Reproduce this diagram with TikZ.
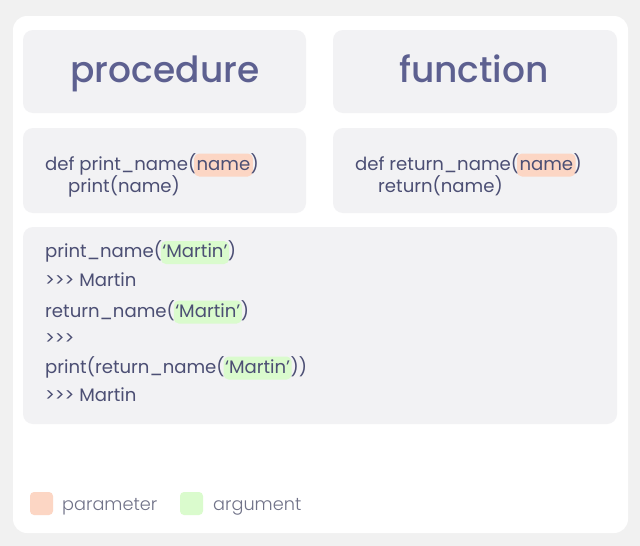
\documentclass[tikz,border=0pt]{standalone}
\usepackage{fontspec}
\setmainfont{Poppins}
\newfontfamily\headfont{Poppins Medium}
\newfontfamily\keyfont{Poppins Light}
\usetikzlibrary{positioning}
\definecolor{page grey}{RGB}{241,241,241}
\definecolor{panel fill}{RGB}{242,242,244}
\definecolor{head ink}{RGB}{93,96,144}
\definecolor{code ink}{RGB}{76,79,116}
\definecolor{key ink}{RGB}{112,114,136}
\definecolor{param fill}{RGB}{252,214,196}
\definecolor{arg fill}{RGB}{218,251,205}
\newcommand\prompt{>{}>{}>}
\tikzset{panel/.style={fill=panel fill, rounded corners=10pt, inner sep=0pt},
    head/.style={anchor=base, inner sep=0pt, text=head ink, font=\headfont\fontsize{36}{40}\selectfont},
    code/.style={anchor=base west, inner sep=0pt, text=code ink, font=\fontsize{18.1}{22}\selectfont},
    param/.style={code, fill=param fill, rounded corners=5pt, inner xsep=2.5pt, inner ysep=6.5pt, text height=10pt, text depth=0pt},
    arg/.style={code, fill=arg fill, rounded corners=5pt, inner xsep=1.5pt, inner ysep=6.5pt, text height=10pt, text depth=0pt},
    keybox/.style={minimum size=23pt, inner sep=0pt, rounded corners=4pt},
    keytext/.style={anchor=base west, inner sep=0pt, text=key ink, font=\keyfont\fontsize{17.7}{22}\selectfont}}

\begin{document}
\begin{tikzpicture}[x=1pt,y=-1pt]
    % page and card
    \fill[page grey] (0,0) rectangle (640,546);
    \useasboundingbox (0,0) rectangle (640,546);
    \fill[white, rounded corners=14pt] (13,16) rectangle (628,533);
    %
    % the five grey panels
    \node[panel, minimum width=283pt, minimum height=83pt] (procBox) at (164.5,71.5) {};
    \node[panel, minimum width=284pt, minimum height=83pt] (funcBox) at (475,71.5) {};
    \node[panel, minimum width=283pt, minimum height=85pt] (procDef) at (164.5,170.5) {};
    \node[panel, minimum width=284pt, minimum height=85pt] (funcDef) at (475,170.5) {};
    \node[panel, minimum width=594pt, minimum height=197pt] (calls) at (320,325.5) {};
    %
    % titles
    \node[head] (procTitle) at (165,82) {procedure};
    \node[head] (funcTitle) at (474,82) {function};
    %
    % definitions
    \node[code] (pd1) at (45,170) {def print\_name(};
    \node[param] (pdName) at ([xshift=-2.5pt]pd1.base east) {name};
    \node[code] (pd1e) at ([xshift=-2.5pt]pdName.base east) {)};
    \node[code] (pd2) at (68,192) {print(name)};
    \node[code] (fd1) at (355,170) {def return\_name(};
    \node[param] (fdName) at ([xshift=-2.5pt]fd1.base east) {name};
    \node[code] (fd1e) at ([xshift=-2.5pt]fdName.base east) {)};
    \node[code] (fd2) at (378,192) {return(name)};
    %
    % calls
    \node[code] (c1) at (45,257.5) {print\_name(};
    \node[arg] (c1Arg) at ([xshift=-1.5pt]c1.base east) {‘Martin’};
    \node[code] (c1e) at ([xshift=-1.5pt]c1Arg.base east) {)};
    \node[code] (c2) at (45,286) {\prompt{} Martin};
    \node[code] (c3) at (45,317) {return\_name(};
    \node[arg] (c3Arg) at ([xshift=-1.5pt]c3.base east) {‘Martin’};
    \node[code] (c3e) at ([xshift=-1.5pt]c3Arg.base east) {)};
    \node[code] (c4) at (45,344.5) {\prompt};
    \node[code] (c5) at (45,373) {print(return\_name(};
    \node[arg] (c5Arg) at ([xshift=-1.5pt]c5.base east) {‘Martin’};
    \node[code] (c5e) at ([xshift=-1.5pt]c5Arg.base east) {))};
    \node[code] (c6) at (45,401) {\prompt{} Martin};
    %
    % legend
    \node[keybox, fill=param fill] (paramKey) at (41.5,503.5) {};
    \node[keytext] (paramText) at (62,510) {parameter};
    \node[keybox, fill=arg fill] (argKey) at (191.5,503.5) {};
    \node[keytext] (argText) at (213,510) {argument};
\end{tikzpicture}
\end{document}
